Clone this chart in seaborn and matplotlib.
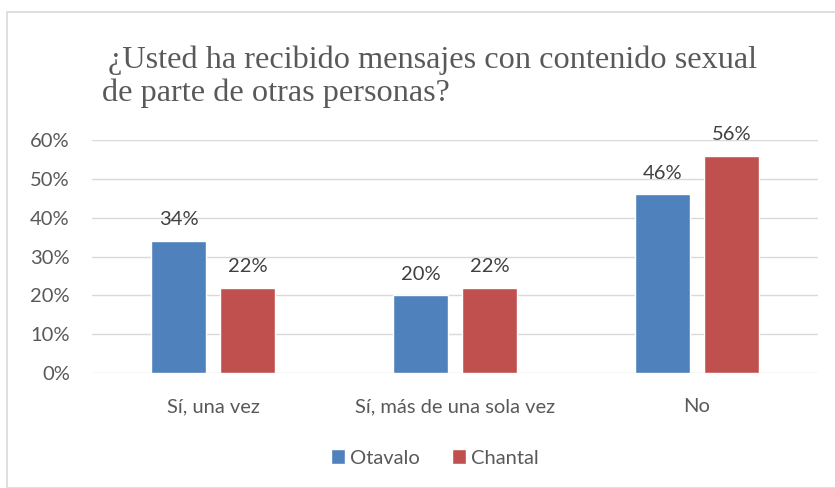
import matplotlib
matplotlib.use("Agg")
from matplotlib import pyplot as plt
from matplotlib.patches import Rectangle
import seaborn as sns
import pandas as pd

categorias = ["Sí, una vez", "Sí, más de una sola vez", "No"]
otavalo = [34, 20, 46]
chantal = [22, 22, 56]
series = ["Otavalo", "Chantal"]
colores = ["#4f81bd", "#c0504d"]
titulo = ["¿Usted ha recibido mensajes con contenido sexual", "de parte de otras personas?"]


def main():
    tabla = pd.DataFrame({
        "Categoria": categorias * 2,
        "Valor": otavalo + chantal,
        "Serie": [series[0]] * 3 + [series[1]] * 3,
    })

    sns.set_theme(style="white")
    plt.rcParams["font.family"] = ["Lato", "DejaVu Sans"]

    fig = plt.figure(figsize=(8.35, 4.88), dpi=100)
    ax = fig.add_axes([92 / 835, 1 - 373 / 488, 726 / 835, 233 / 488])

    sns.barplot(data=tabla, x="Categoria", y="Valor", hue="Serie", order=categorias,
                hue_order=series, palette=colores, width=0.57, gap=0.19,
                saturation=1, ax=ax, legend=True)

    ax.set_xlim(-0.5, 2.5)
    ax.set_ylim(0, 60)
    ax.set_yticks(range(0, 61, 10))
    ax.set_yticklabels([f"{v}%" for v in range(0, 61, 10)])
    ax.yaxis.grid(True, color="#d9d9d9", linewidth=1)
    ax.set_axisbelow(True)
    for s in ax.spines.values():
        s.set_visible(False)
    ax.tick_params(axis="both", length=0, labelsize=14.5, colors="#595959")
    ax.tick_params(axis="y", pad=16)
    ax.tick_params(axis="x", pad=18)
    ax.set_xlabel("")
    ax.set_ylabel("")

    for cont in ax.containers:
        ax.bar_label(cont, fmt="%d%%", padding=9, fontsize=14.5, color="#404040")

    leg = ax.legend(loc="center", bbox_to_anchor=(0.472, -0.365), ncol=2, frameon=False,
                    fontsize=14.5, handlelength=0.7, handleheight=0.7, handletextpad=0.25,
                    columnspacing=1.6)
    for t in leg.get_texts():
        t.set_color("#595959")

    fuente_titulo = dict(ha="left", va="baseline", fontsize=23.2,
                         family=["Liberation Serif", "DejaVu Serif"], color="#595959")
    fig.text(108 / 835, 1 - 68 / 488, titulo[0], **fuente_titulo)
    fig.text(102 / 835, 1 - 101 / 488, titulo[1], **fuente_titulo)

    fig.patches.append(Rectangle((7 / 835, 0), 1, 1 - 12 / 488, transform=fig.transFigure,
                                 fill=False, edgecolor="#d9d9d9", linewidth=1.2))

    fig.savefig("out.png", dpi=100)


if __name__ == "__main__":
    main()
